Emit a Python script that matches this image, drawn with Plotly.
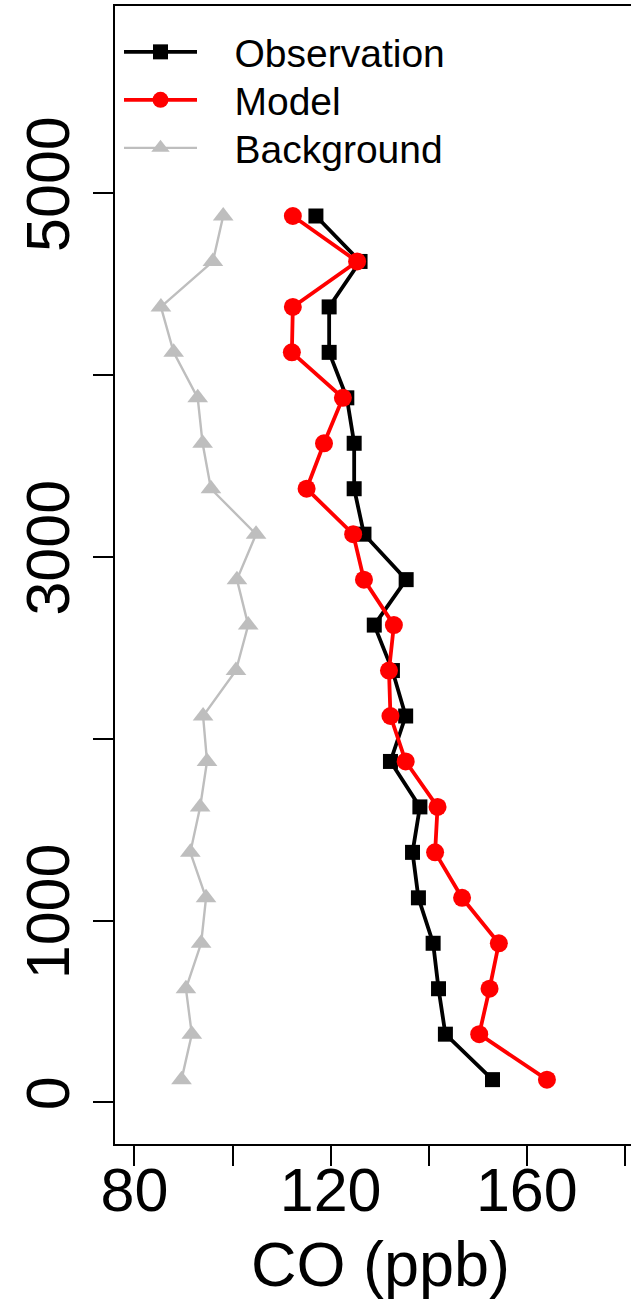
import plotly.graph_objects as go

# Altitude levels (m)
altitude = [125, 375, 625, 875, 1125, 1375, 1625, 1875, 2125, 2375,
            2625, 2875, 3125, 3375, 3625, 3875, 4125, 4375, 4625, 4875]
# CO (ppb)
observation = [153.0, 143.4, 142.0, 140.9, 137.9, 136.7, 138.2, 132.2, 135.3, 132.6,
               128.9, 135.4, 126.8, 124.8, 124.8, 123.3, 119.7, 119.7, 126.0, 117.0]
model = [164.1, 150.3, 152.4, 154.3, 146.8, 141.3, 141.8, 135.3, 132.2, 131.9,
         132.9, 126.8, 124.6, 115.1, 118.65, 122.5, 112.1, 112.3, 125.4, 112.3]
background = [89.6, 91.7, 90.5, 93.6, 94.6, 91.4, 93.4, 94.8, 94.0, 100.7,
              103.2, 100.9, 104.8, 95.6, 93.9, 92.9, 88.0, 85.4, 96.0, 98.1]

series_names = ["Observation", "Model", "Background"]

x_tickvals = [80, 100, 120, 140, 160, 180]
x_ticktext = ["80", "", "120", "", "160", ""]
y_tickvals = [0, 1000, 2000, 3000, 4000, 5000]
y_ticktext = ["0", "1000", "", "3000", "", "5000"]

FONT = "Liberation Sans, Arial, Helvetica, sans-serif"
PAD = "\u00a0\u00a0\u00a0"

fig = go.Figure()
fig.add_trace(go.Scatter(x=observation, y=altitude, name=PAD + series_names[0], mode="lines+markers",
                         legend="legend",
                         line=dict(color="black", width=3.8),
                         marker=dict(symbol="square", size=15, color="black")))
fig.add_trace(go.Scatter(x=model, y=altitude, name=PAD + series_names[1], mode="lines+markers",
                         legend="legend2",
                         line=dict(color="#FF0000", width=3.8),
                         marker=dict(symbol="circle", size=18, color="#FF0000")))
fig.add_trace(go.Scatter(x=background, y=altitude, name=PAD + series_names[2], mode="lines+markers",
                         legend="legend3",
                         line=dict(color="#BEBEBE", width=2.4),
                         marker=dict(symbol="triangle-up", size=18, color="#BEBEBE")))

def leg(ypx):
    return dict(x=(119 - 115) / 516, y=1 - (ypx - 6) / 1138, xanchor="left", yanchor="top",
                font=dict(size=39, family=FONT, color="black"),
                bgcolor="rgba(0,0,0,0)", borderwidth=0, itemwidth=73)

fig.update_layout(
    width=631, height=1300,
    margin=dict(l=115, r=0, t=6, b=156, pad=0),
    paper_bgcolor="white", plot_bgcolor="white",
    font=dict(family=FONT, color="black"),
    showlegend=True,
    legend=leg(20), legend2=leg(68), legend3=leg(116),
    xaxis=dict(range=[76.04, 181.24], showline=True, linecolor="black", linewidth=2,
               mirror=True, ticks="outside", ticklen=20, tickwidth=2, tickcolor="black",
               tickvals=x_tickvals, ticktext=x_ticktext, ticklabelstandoff=-28,
               tickfont=dict(size=61, family=FONT, color="black"),
               showgrid=False, zeroline=False),
    yaxis=dict(range=[-229, 6030], showline=True, linecolor="black", linewidth=2,
               mirror=False, ticks="outside", ticklen=20, tickwidth=2, tickcolor="black",
               tickvals=y_tickvals, ticktext=y_ticktext, tickangle=-90,
               tickfont=dict(size=61, family=FONT, color="black"),
               showgrid=False, zeroline=False),
    annotations=[dict(text="CO (ppb)", xref="paper", yref="paper",
                      x=(380 - 115) / 516, y=-(1227 - 1144) / 1138,
                      xanchor="center", yanchor="top", showarrow=False,
                      font=dict(size=63, family=FONT, color="black"))],
)

fig.write_html("out.html")
